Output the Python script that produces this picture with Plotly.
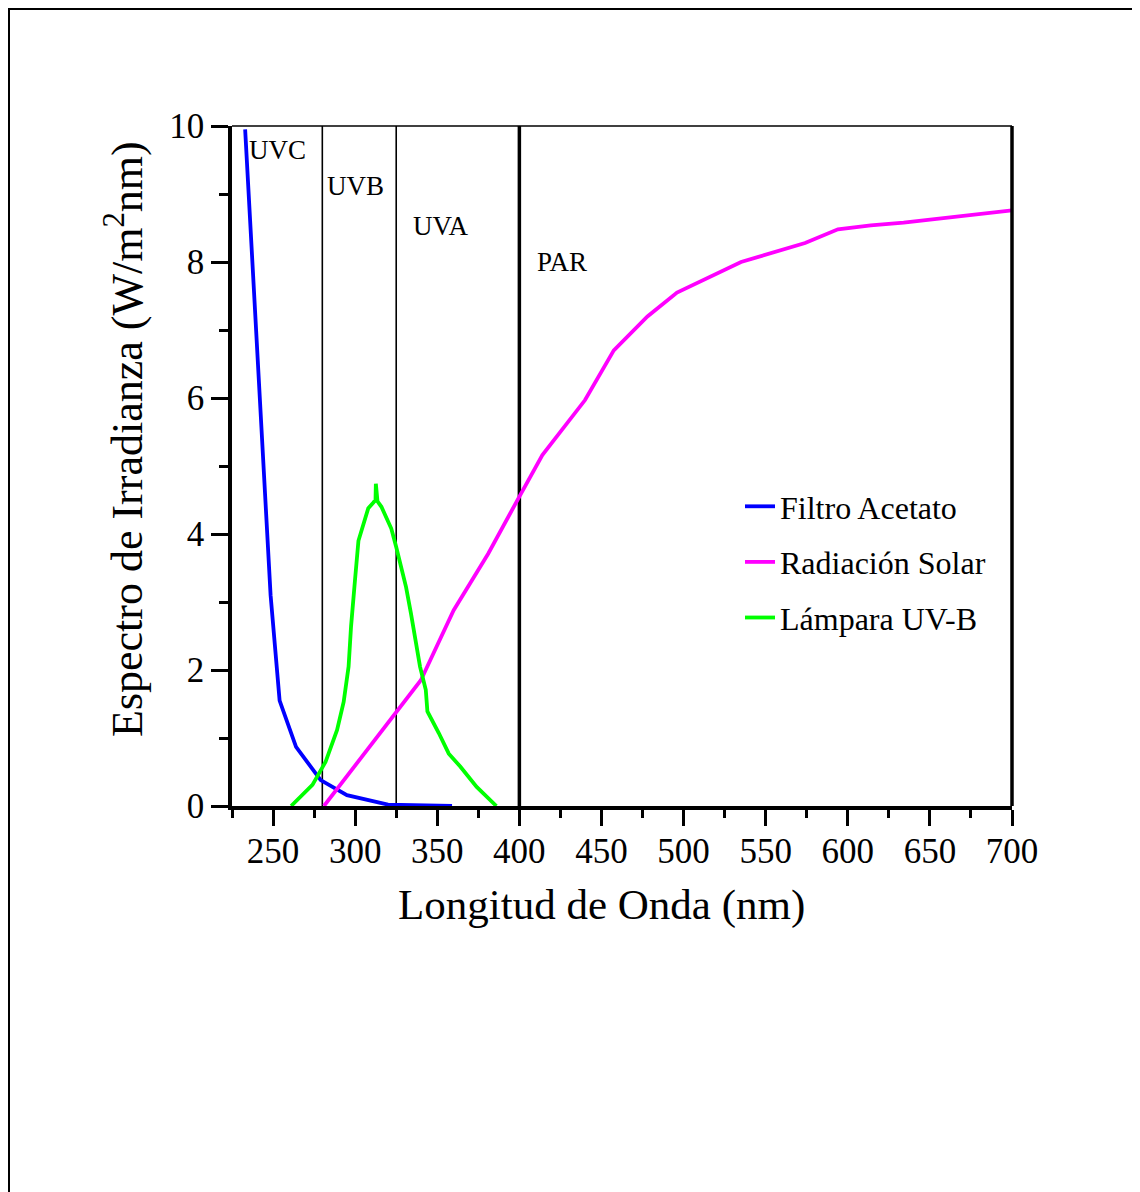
import plotly.graph_objects as go

# ---------------- data ----------------
filtro_nm = [233, 248.5, 254, 264, 279, 295, 320, 359]
filtro_val = [9.95, 3.1, 1.55, 0.87, 0.38, 0.16, 0.02, 0.0]

solar_nm = [281, 320, 340, 360, 381, 400, 414, 440, 457.5, 478, 496, 535, 574, 594, 614, 634, 700]
solar_val = [0.0, 1.22, 1.85, 2.88, 3.71, 4.55, 5.16, 5.97, 6.7, 7.2, 7.55, 8.0, 8.28, 8.48, 8.54, 8.58, 8.76]

lampara_nm = [261, 274, 282, 289, 293, 296, 297.5, 298.5, 300, 302, 305, 308, 311, 312.4, 312.6,
              313.6, 316, 319, 322, 325, 328, 331, 334, 337, 339.5, 343, 344, 351, 357, 364, 374, 386]
lampara_val = [0.0, 0.31, 0.65, 1.12, 1.53, 2.05, 2.64, 2.98, 3.35, 3.9, 4.16, 4.38, 4.46, 4.5, 4.74,
               4.48, 4.4, 4.23, 4.08, 3.81, 3.52, 3.22, 2.83, 2.44, 2.05, 1.71, 1.39, 1.07, 0.77, 0.58, 0.28, 0.0]

series_names = ["Filtro Acetato", "Radiación Solar", "Lámpara UV-B"]

region_bounds = [280, 325, 400]
region_labels = ["UVC", "UVB", "UVA", "PAR"]
region_label_x = [253, 300.5, 352.5, 426]
region_label_y = [9.65, 9.12, 8.53, 8.0]

x_ticks = [250, 300, 350, 400, 450, 500, 550, 600, 650, 700]
y_ticks = [0, 2, 4, 6, 8, 10]

x_title = "Longitud de Onda (nm)"
y_title = "Espectro de Irradianza (W/m<sup>2</sup>nm)"

FONT = "Liberation Serif, Times New Roman, serif"

# page body has an 8px margin: figure origin is at page (8, 8)
W, H = 1132, 1184
ML, MR, MT, MB = 224, 128, 118, 386
PW, PH = W - ML - MR, H - MT - MB   # 780 x 680


def px_x(p):  # page x -> paper x
    return (p - 8 - ML) / PW


def px_y(p):  # page y -> paper y
    return (H - MB - (p - 8)) / PH


fig = go.Figure()
for name, xs, ys, col in [
    (series_names[0], filtro_nm, filtro_val, "#0000FF"),
    (series_names[1], solar_nm, solar_val, "#FF00FF"),
    (series_names[2], lampara_nm, lampara_val, "#00FF00"),
]:
    fig.add_trace(go.Scatter(x=xs, y=ys, mode="lines", name=name, legendgroup=name,
                             line=dict(color=col, width=3.8)))

# region boundary lines
for b in region_bounds:
    fig.add_shape(type="line", xref="x", yref="y", x0=b, x1=b, y0=0, y1=10,
                  line=dict(color="black", width=3.5 if b == 400 else 1.6), layer="below")

# region labels
for lab, lx, ly in zip(region_labels, region_label_x, region_label_y):
    fig.add_annotation(x=lx, y=ly, xref="x", yref="y", text=lab, showarrow=False,
                       font=dict(family=FONT, size=27, color="black"))

# axis titles
fig.add_annotation(x=px_x(601.5), y=px_y(905), xref="paper", yref="paper", text=x_title,
                   showarrow=False, xanchor="center", yanchor="middle",
                   font=dict(family=FONT, size=43, color="black"))
fig.add_annotation(x=px_x(124), y=px_y(439), xref="paper", yref="paper", text=y_title,
                   showarrow=False, xanchor="center", yanchor="middle", textangle=-90,
                   font=dict(family=FONT, size=44, color="black"))

# top (thin) and right (thick) borders of the plot area
fig.add_shape(type="line", xref="x domain", yref="y domain", x0=0, x1=1, y0=1, y1=1,
              line=dict(color="black", width=1.6))
fig.add_shape(type="line", xref="x domain", yref="y domain", x0=1, x1=1, y0=0, y1=1,
              line=dict(color="black", width=3.5))

# outer frame (left + top edges visible)
fig.add_shape(type="rect", xref="paper", yref="paper",
              x0=px_x(9), x1=2.0, y0=-2.0, y1=px_y(9),
              line=dict(color="black", width=2), fillcolor="rgba(0,0,0,0)")

fig.update_layout(
    width=W, height=H,
    margin=dict(l=ML, r=MR, t=MT, b=MB),
    paper_bgcolor="white", plot_bgcolor="white",
    font=dict(family=FONT, color="black"),
    showlegend=True,
    legend=dict(x=px_x(740), y=px_y(479), xanchor="left", yanchor="top",
                font=dict(family=FONT, size=32, color="black"),
                bgcolor="rgba(0,0,0,0)", borderwidth=0, tracegroupgap=11),
    xaxis=dict(range=[225, 700], tickmode="array", tickvals=x_ticks,
               ticks="outside", ticklen=16, tickwidth=3, tickcolor="black",
               showline=True, linewidth=3.5, linecolor="black",
               showgrid=False, zeroline=False, ticklabelstandoff=-5,
               tickfont=dict(family=FONT, size=35, color="black"),
               minor=dict(dtick=25, tick0=0, ticks="outside", ticklen=8, tickwidth=3, tickcolor="black",
                          showgrid=False)),
    yaxis=dict(range=[0, 10], tickmode="array", tickvals=y_ticks,
               ticks="outside", ticklen=17, tickwidth=3, tickcolor="black",
               showline=True, linewidth=3.5, linecolor="black",
               showgrid=False, zeroline=False,
               tickfont=dict(family=FONT, size=35, color="black"),
               minor=dict(dtick=1, tick0=0, ticks="outside", ticklen=9, tickwidth=3, tickcolor="black",
                          showgrid=False)),
)

fig.write_html("out.html")
